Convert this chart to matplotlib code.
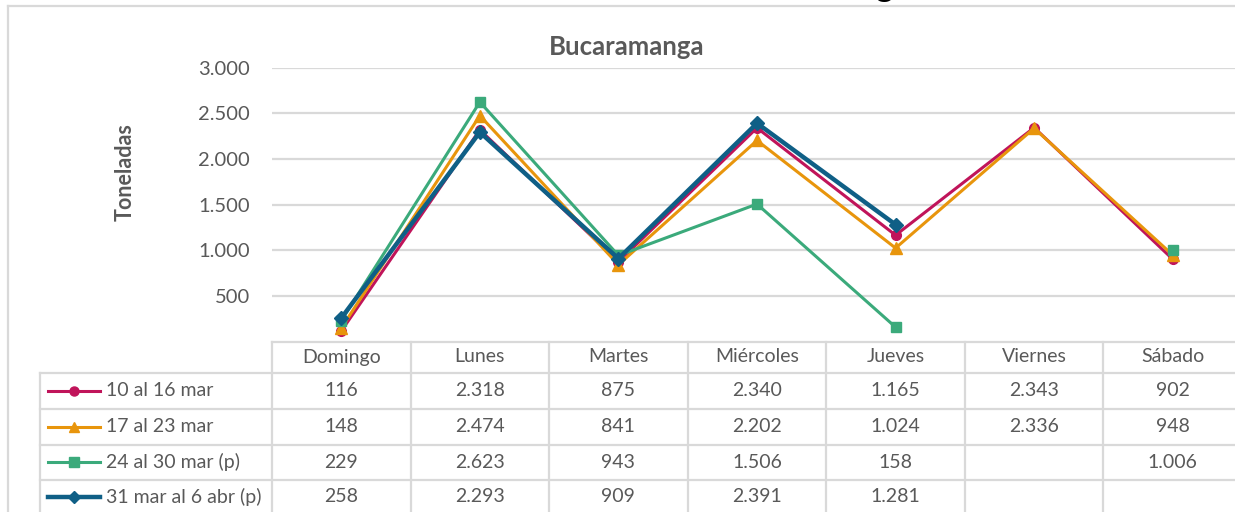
import numpy as np
import matplotlib
matplotlib.use('Agg')
import matplotlib.pyplot as plot
from matplotlib.lines import Line2D
import matplotlib.transforms as mtransforms

days = ['Domingo', 'Lunes', 'Martes', 'Miércoles', 'Jueves', 'Viernes', 'Sábado']
series_names = ['10 al 16 mar', '17 al 23 mar', '24 al 30 mar (p)', '31 mar al 6 abr (p)']
week1 = [116, 2318, 875, 2340, 1165, 2343, 902]
week2 = [148, 2474, 841, 2202, 1024, 2336, 948]
week3 = [229, 2623, 943, 1506, 158, np.nan, 1006]
week4 = [258, 2293, 909, 2391, 1281, np.nan, np.nan]
y_ticks = [500, 1000, 1500, 2000, 2500, 3000]

colors = ['#C0145A', '#E8950C', '#3BAA7B', '#0F5F86']
markers = ['o', '^', 's', 'D']
marker_sizes = [7, 8, 7.5, 7]
line_widths = [2.2, 2.2, 2.2, 3.2]
grid_color = '#D9D9D9'
text_color = '#595959'

plot.rcParams['font.family'] = ['Lato', 'DejaVu Sans']

W, H = 1235, 512


def fx(px):
    return px / W


def fy(py):
    return 1 - py / H


figure = plot.figure(figsize=(W / 100, H / 100), dpi=100)
axis = figure.add_axes([fx(272), fy(341.6), fx(1242) - fx(272), fy(67.6) - fy(341.6)])

all_series = [week1, week2, week3, week4]
for values, color, marker, ms, lw in zip(all_series, colors, markers, marker_sizes, line_widths):
    axis.plot(range(len(days)), values, color=color, marker=marker, markersize=ms,
              linewidth=lw, clip_on=False, zorder=3)

axis.set_xlim(-0.5, len(days) - 0.5)
axis.set_ylim(0, 3000)
axis.set_yticks(y_ticks)
axis.set_yticklabels(['{:,}'.format(t).replace(',', '.') for t in y_ticks])
axis.set_xticks([])
axis.tick_params(axis='y', length=0, pad=16, labelsize=14.5, labelcolor=text_color)
axis.grid(axis='y', color=grid_color, linewidth=1.6, zorder=0)
for side in axis.spines.values():
    side.set_visible(False)

figure.text(fx(627), fy(47), 'Bucaramanga', ha='center', va='center', fontsize=18.5,
            fontweight='bold', color=text_color)
figure.text(fx(125), fy(172), 'Toneladas', ha='center', va='center', rotation=90,
            fontsize=15.5, fontweight='bold', color=text_color)

# cropped title fragment at very top
figure.text(fx(884), fy(-2.5), 'g', ha='center', va='baseline', fontsize=24,
            fontweight='bold', color='black')

# outer frame
figure.add_artist(Line2D([fx(8), fx(8)], [fy(6), fy(520)], color=grid_color, linewidth=1.6))
figure.add_artist(Line2D([fx(8), fx(1240)], [fy(6), fy(6)], color=grid_color, linewidth=1.6))

# data table
blend = mtransforms.blended_transform_factory(axis.transData, figure.transFigure)
row_lines = [373, 409, 444.5, 480]
row_centers = [391, 426.5, 462, 497]
right_edge = fx(1245)

figure.add_artist(Line2D([fx(272), right_edge], [fy(341.6), fy(341.6)], color=grid_color, linewidth=1.6))
for py in row_lines:
    figure.add_artist(Line2D([fx(40), right_edge], [fy(py), fy(py)], color=grid_color, linewidth=1.6))
figure.add_artist(Line2D([fx(40), fx(40)], [fy(373), fy(520)], color=grid_color, linewidth=1.6))
for i in range(len(days) + 1):
    axis.add_artist(Line2D([i - 0.5, i - 0.5], [fy(341.6), fy(520)], transform=blend,
                           color=grid_color, linewidth=1.6, clip_on=False))

for i, day in enumerate(days):
    axis.text(i, fy(357), day, transform=blend, ha='center', va='center',
              fontsize=14, color=text_color, clip_on=False)

for row, values in enumerate(all_series):
    py = row_centers[row]
    for i, v in enumerate(values):
        if np.isnan(v):
            continue
        axis.text(i, fy(py), '{:,.0f}'.format(v).replace(',', '.'), transform=blend,
                  ha='center', va='center', fontsize=14, color=text_color, clip_on=False)
    figure.add_artist(Line2D([fx(48), fx(100)], [fy(py), fy(py)], color=colors[row],
                             linewidth=line_widths[row]))
    figure.add_artist(Line2D([fx(74)], [fy(py)], color=colors[row], marker=markers[row],
                             markersize=marker_sizes[row] - 0.5, linestyle='none'))
    figure.text(fx(106), fy(py), series_names[row], ha='left', va='center',
                fontsize=14, color=text_color)

figure.savefig('out.png', dpi=100)
